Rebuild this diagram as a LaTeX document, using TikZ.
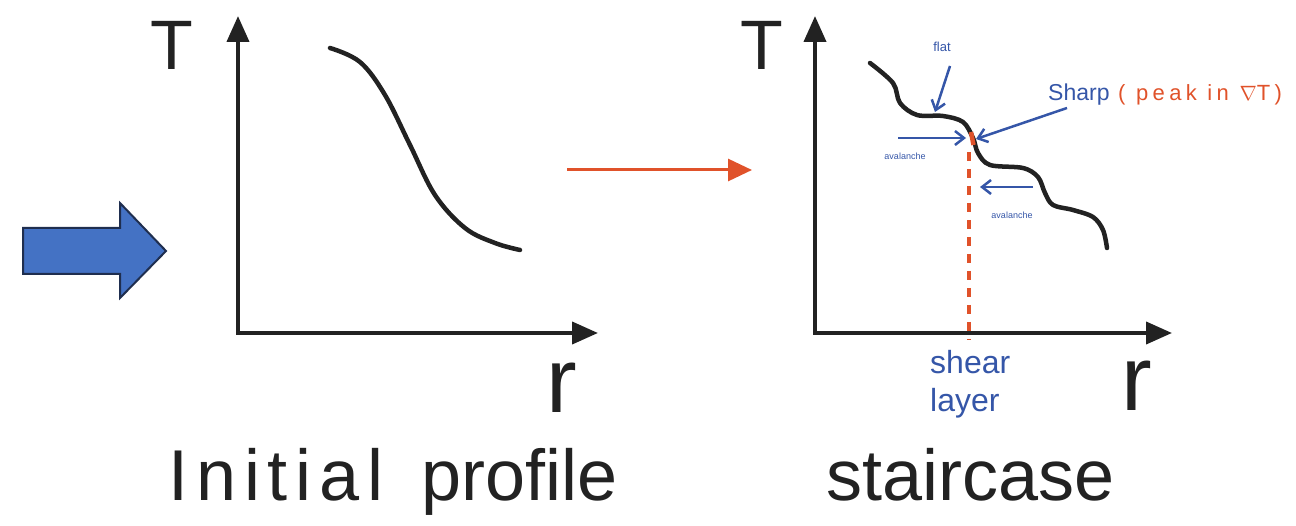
\documentclass[tikz,border=0pt]{standalone}
\usepackage{fontspec}
\setmainfont{Liberation Sans}
\newfontfamily\widefont[LetterSpace=20]{Liberation Sans}
\newfontfamily\bigwidefont[LetterSpace=11]{Liberation Sans}
\usetikzlibrary{arrows.meta}
\definecolor{bluefill}{HTML}{4472C4}
\definecolor{blueedge}{HTML}{1F2E4F}
\definecolor{ink}{HTML}{222222}
\definecolor{pen}{HTML}{3556A8}
\definecolor{redpen}{HTML}{E0522A}
\tikzset{
  axis/.style={line width=4pt, ink, -{Triangle[length=26pt,width=22pt]}},
  curve/.style={line width=4.5pt, ink, line cap=round, line join=round},
  bluearrow/.style={line width=2.5pt, pen, -{Straight Barb[length=9pt,width=14pt]}},
  bigtxt/.style={inner sep=0pt, ink},
}
\begin{document}
\begin{tikzpicture}[x=1pt,y=-1pt]
\useasboundingbox (0,0) rectangle (1296,526);
% block arrow
\draw[fill=bluefill, draw=blueedge, line width=2pt, line join=miter]
  (23,228) -- (120,228) -- (120,203) -- (166,251) -- (120,298) -- (120,274) -- (23,274) -- cycle;
% left axes
\coordinate (o1) at (238,333);
\coordinate (t1) at (238,16);
\coordinate (r1) at (598,333);
\draw[axis] (o1) -- (t1);
\draw[axis] ([xshift=-2pt]o1) -- (r1);
\node[bigtxt, font=\fontsize{70}{70}\selectfont] (T1) at (172,45) {T};
\node[bigtxt, font=\fontsize{92}{92}\selectfont, anchor=base] (R1) at (562,413) {r};
\node[bigtxt, font=\fontsize{72}{72}\selectfont, anchor=base west] (lab1) at (168,500) {{\bigwidefont Initial}\hspace{38pt}profile};
\draw[curve] plot[smooth, tension=0.6] coordinates {(330,48) (360,62) (385,95) (410,145) (435,195) (465,228) (495,243) (520,250)};
% red arrow
\coordinate (ra1) at (567,170);
\coordinate (ra2) at (752,170);
\draw[line width=3pt, redpen, -{Triangle[length=24pt,width=22pt]}] (ra1) -- (ra2);
% right axes
\coordinate (o2) at (815,333);
\coordinate (t2) at (815,16);
\coordinate (r2) at (1172,333);
\draw[axis] (o2) -- (t2);
\draw[axis] ([xshift=-2pt]o2) -- (r2);
\node[bigtxt, font=\fontsize{70}{70}\selectfont] (T2) at (762,45) {T};
\node[bigtxt, font=\fontsize{92}{92}\selectfont, anchor=base] (R2) at (1137,410) {r};
\node[bigtxt, font=\fontsize{72}{72}\selectfont, anchor=base west] (lab2) at (826,500) {staircase};
% red dashed shear line
\coordinate (s1) at (969,152);
\coordinate (s2) at (969,340);
\draw[redpen, line width=4pt, dash pattern=on 9pt off 8pt] (s1) -- (s2);
% staircase curve
\draw[curve] plot[smooth, tension=0.55] coordinates {(870,63) (893,83) (900,103) (917,115) (943,116) (963,122) (973,138) (978,153) (990,165) (1023,168) (1038,177) (1045,193) (1053,205) (1073,210) (1093,217) (1103,230) (1107,248)};
\draw[redpen, line width=4.5pt] (971,132) -- (973.5,145);
\coordinate (sharp) at (976,139);
% labels
\node[pen, font=\fontsize{13}{13}\selectfont, inner sep=1pt] (flat) at (942,47) {flat};
\coordinate (flatpt) at (935,112);
\draw[bluearrow] (950,66) -- (flatpt);
\node[pen, font=\fontsize{23}{23}\selectfont, anchor=base west, inner sep=0pt] (sharplab) at (1048,101) {Sharp};
\node[redpen, font=\widefont\fontsize{22}{22}\selectfont, anchor=base west, inner sep=0pt] (peak) at (1118,101) {( peak in $\nabla$T)};
\draw[bluearrow] (1067,108) -- (sharp);
\coordinate (av1a) at (898,138);
\coordinate (av1b) at (966,138);
\draw[bluearrow] (av1a) -- (av1b);
\node[pen, font=\fontsize{9}{9}\selectfont, inner sep=0pt] (avl1) at (905,156) {avalanche};
\coordinate (av2a) at (1033,187);
\coordinate (av2b) at (980,187);
\draw[bluearrow] (av2a) -- (av2b);
\node[pen, font=\fontsize{9}{9}\selectfont, inner sep=0pt] (avl2) at (1012,215) {avalanche};
\node[pen, font=\fontsize{32}{38}\selectfont, inner sep=0pt, align=left, anchor=north west] (shear) at (930,350) {shear\\layer};
\end{tikzpicture}
\end{document}
